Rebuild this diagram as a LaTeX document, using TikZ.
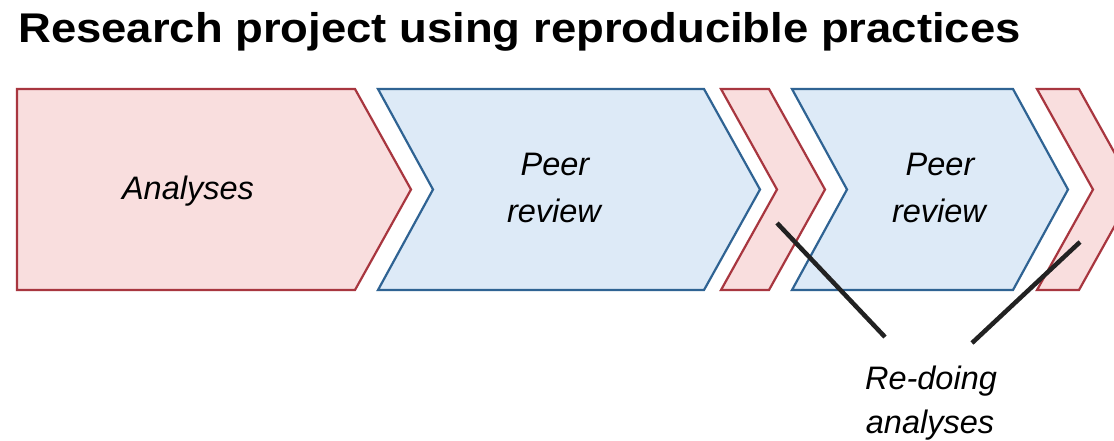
\documentclass[tikz,border=0pt]{standalone}
\usepackage{fontspec}
\setmainfont{Liberation Sans}
\definecolor{redfill}{HTML}{F9DEDE}
\definecolor{redline}{HTML}{A8363F}
\definecolor{bluefill}{HTML}{DDEAF7}
\definecolor{blueline}{HTML}{2F6393}
\definecolor{pointer}{HTML}{222222}
\begin{document}
\begin{tikzpicture}[x=1pt,y=-1pt,
  redch/.style={fill=redfill,draw=redline,line width=2.2pt,line join=miter},
  bluech/.style={fill=bluefill,draw=blueline,line width=2.2pt,line join=miter},
  lbl/.style={anchor=base,inner sep=0pt,font=\itshape\fontsize{32.5}{32.5}\selectfont},
  ttl/.style={anchor=base west,inner sep=0pt,font=\bfseries\fontsize{41.5}{41.5}\selectfont},
  pointerline/.style={draw=pointer,line width=4.5pt}]
\clip (0,0) rectangle (1114,440);
\fill[white] (0,0) rectangle (1114,440);
\node[ttl] (title) at (18,42) {\scalebox{1.095}[1]{Research project using reproducible practices}};
% chevrons
\draw[redch] (17,89)--(355,89)--(411,189.5)--(355,290)--(17,290)--cycle;
\draw[bluech] (378,89)--(704,89)--(760,189.5)--(704,290)--(378,290)--(433,189.5)--cycle;
\draw[redch] (721,89)--(769,89)--(825,189.5)--(769,290)--(721,290)--(777,189.5)--cycle;
\draw[bluech] (792,89)--(1013,89)--(1068,189.5)--(1013,290)--(792,290)--(847,189.5)--cycle;
\draw[redch] (1037,89)--(1079,89)--(1135,189.5)--(1079,290)--(1037,290)--(1093,189.5)--cycle;
% labels
\node[lbl] (analyses) at (188,199) {Analyses};
\node[lbl] (peerA) at (555,175) {Peer};
\node[lbl] (reviewA) at (554,222) {review};
\node[lbl] (peerB) at (940,175) {Peer};
\node[lbl] (reviewB) at (939,222) {review};
\node[lbl] (redoing) at (931,389) {Re-doing};
\node[lbl] (redoanal) at (930,433) {analyses};
% pointers
\coordinate (redoA) at (777,223);
\coordinate (redoB) at (1080,242);
\coordinate (tipA) at (885,337);
\coordinate (tipB) at (972,343);
\draw[pointerline] (redoA) -- (tipA);
\draw[pointerline] (tipB) -- (redoB);
\end{tikzpicture}
\end{document}
